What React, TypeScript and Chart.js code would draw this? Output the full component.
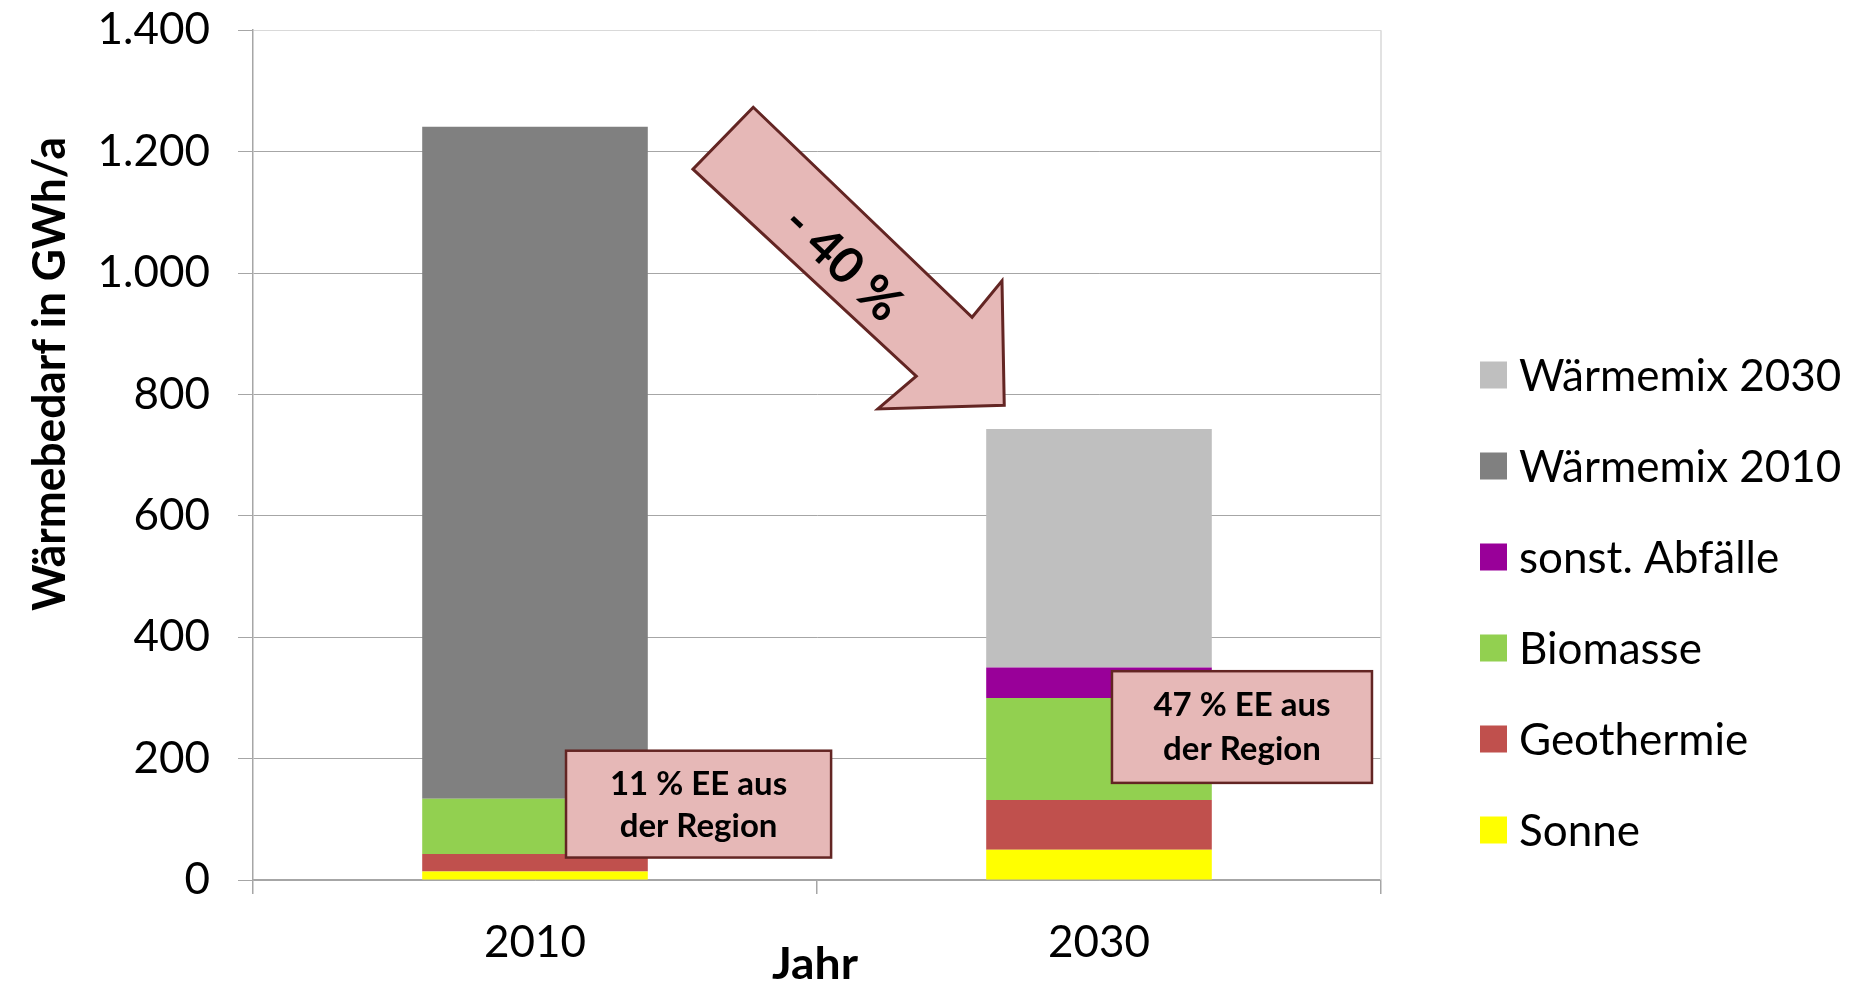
import React, { useEffect, useRef } from "react";
import { Chart, registerables } from "chart.js";

Chart.register(...registerables);

// ---------- data ----------
const categories = ["2010", "2030"];
const sonne = [14, 50];
const geothermie = [29, 82];
const biomasse = [91, 168];
const abfaelle = [0, 50];
const waermemix2010 = [1107, 0];
const waermemix2030 = [0, 393];
const yTickLabels = ["0", "200", "400", "600", "800", "1.000", "1.200", "1.400"];
const seriesNames = ["Sonne", "Geothermie", "Biomasse", "sonst. Abfälle", "Wärmemix 2010", "Wärmemix 2030"];
const seriesColors = ["#FFFF00", "#C0504D", "#92D050", "#990099", "#808080", "#BFBFBF"];
const yAxisTitle = "Wärmebedarf in GWh/a";
const xAxisTitle = "Jahr";
const arrowLabel = "- 40 %";
const note2010 = ["11 % EE aus", "der Region"];
const note2030 = ["47 % EE aus", "der Region"];

const FONT = "Lato, 'Liberation Sans', sans-serif";
const FILL = "#E6B8B7";
const STROKE = "#632523";

const overlayPlugin = {
  id: "overlay",
  afterDatasetsDraw(chart: any) {
    const ctx = chart.ctx as CanvasRenderingContext2D;
    const xs = chart.scales.x;
    const ys = chart.scales.y;
    const ca = chart.chartArea;
    const P = (i: number, v: number) => [xs.getPixelForValue(i), ys.getPixelForValue(v)];

    // plot area right border
    ctx.save();
    ctx.strokeStyle = "#D9D9D9";
    ctx.lineWidth = 1.5;
    ctx.beginPath();
    ctx.moveTo(ca.right, ca.top);
    ctx.lineTo(ca.right, ca.bottom);
    ctx.stroke();
    ctx.restore();

    // arrow (decoration, anchored to the scales)
    const arrow = [
      [0.387, 1273],
      [0.28, 1171],
      [0.676, 830],
      [0.608, 776],
      [0.832, 782],
      [0.828, 987],
      [0.775, 927],
    ].map(([i, v]) => P(i, v));
    ctx.save();
    ctx.beginPath();
    arrow.forEach(([x, y], k) => (k === 0 ? ctx.moveTo(x, y) : ctx.lineTo(x, y)));
    ctx.closePath();
    ctx.fillStyle = FILL;
    ctx.fill();
    ctx.lineWidth = 3;
    ctx.strokeStyle = STROKE;
    ctx.lineJoin = "miter";
    ctx.stroke();
    const [tx, ty] = P(0.545, 1015);
    ctx.translate(tx, ty);
    ctx.rotate((43.5 * Math.PI) / 180);
    ctx.fillStyle = "#000";
    ctx.font = `bold 50px ${FONT}`;
    ctx.textAlign = "center";
    ctx.textBaseline = "middle";
    ctx.fillText(arrowLabel, 0, 0);
    ctx.restore();

    // note boxes
    const drawNote = (i0: number, i1: number, vTop: number, vBot: number, lines: string[], offs: number[]) => {
      const [x0, y0] = P(i0, vTop);
      const [x1, y1] = P(i1, vBot);
      ctx.save();
      ctx.fillStyle = FILL;
      ctx.fillRect(x0, y0, x1 - x0, y1 - y0);
      ctx.lineWidth = 2.5;
      ctx.strokeStyle = STROKE;
      ctx.strokeRect(x0, y0, x1 - x0, y1 - y0);
      ctx.fillStyle = "#000";
      ctx.font = `bold 33px ${FONT}`;
      ctx.textAlign = "center";
      ctx.textBaseline = "alphabetic";
      lines.forEach((t, k) => ctx.fillText(t, (x0 + x1) / 2, y0 + offs[k]));
      ctx.restore();
    };
    drawNote(0.055, 0.525, 213, 37, note2010, [44, 86]);
    drawNote(1.023, 1.484, 344, 160, note2030, [45, 89]);
  },
  afterDraw(chart: any) {
    const ctx = chart.ctx as CanvasRenderingContext2D;
    const ca = chart.chartArea;

    // y axis title (condensed bold)
    ctx.save();
    ctx.fillStyle = "#000";
    ctx.font = `bold 46px ${FONT}`;
    const wY = ctx.measureText(yAxisTitle).width;
    ctx.translate(65, 374);
    ctx.rotate(-Math.PI / 2);
    ctx.scale(474 / wY, 1);
    ctx.textAlign = "center";
    ctx.textBaseline = "alphabetic";
    ctx.fillText(yAxisTitle, 0, 0);
    ctx.restore();

    // x axis title
    ctx.save();
    ctx.fillStyle = "#000";
    ctx.font = `bold 44px ${FONT}`;
    const wX = ctx.measureText(xAxisTitle).width;
    ctx.translate((ca.left + ca.right) / 2 - 2, 979);
    ctx.scale(86 / wX, 1);
    ctx.textAlign = "center";
    ctx.textBaseline = "alphabetic";
    ctx.fillText(xAxisTitle, 0, 0);
    ctx.restore();

    // legend (reverse order, as in the stack)
    ctx.save();
    const ds = chart.data.datasets;
    const order = ds.map((_: any, k: number) => k).reverse();
    ctx.font = `44px ${FONT}`;
    ctx.textAlign = "left";
    ctx.textBaseline = "alphabetic";
    order.forEach((k: number, row: number) => {
      const cy = 375 + row * 91;
      ctx.fillStyle = ds[k].backgroundColor;
      ctx.fillRect(1480, cy - 13.5, 27, 27);
      ctx.fillStyle = "#000";
      ctx.fillText(ds[k].label, 1519, cy + 15.5);
    });
    ctx.restore();
  },
};

export default function App() {
  const ref = useRef<HTMLCanvasElement>(null);
  useEffect(() => {
    document.body.style.margin = "0";
    const values = [sonne, geothermie, biomasse, abfaelle, waermemix2010, waermemix2030];
    const chart = new Chart(ref.current as HTMLCanvasElement, {
      type: "bar",
      data: {
        labels: categories,
        datasets: values.map((d, k) => ({
          label: seriesNames[k],
          data: d,
          backgroundColor: seriesColors[k],
          borderWidth: 0,
          barPercentage: 0.4,
          categoryPercentage: 1,
        })),
      },
      options: {
        responsive: false,
        animation: false,
        devicePixelRatio: 1,
        layout: { padding: { top: 0, right: 480, left: 0, bottom: 0 } },
        plugins: {
          legend: { display: false },
          tooltip: { enabled: false },
        },
        scales: {
          x: {
            stacked: true,
            offset: true,
            grid: {
              offset: true,
              drawOnChartArea: false,
              drawTicks: true,
              tickLength: 14,
              tickColor: "#A6A6A6",
              lineWidth: 1.5,
            },
            border: { color: "#A6A6A6", width: 1.5 },
            ticks: { font: { family: FONT, size: 44 }, color: "#000", padding: 22 },
            afterFit: (s: any) => {
              s.height = 103;
            },
          },
          y: {
            stacked: true,
            min: 0,
            max: 1400,
            ticks: {
              stepSize: 200,
              font: { family: FONT, size: 44, lineHeight: 0.1 },
              color: "#000",
              padding: 28,
              callback: (_v: any, i: number) => yTickLabels[i],
            },
            grid: {
              color: (c: any) => (c.tick && c.tick.value === 1400 ? "#D9D9D9" : "#A6A6A6"),
              lineWidth: 1,
              tickLength: 15,
              tickColor: "#A6A6A6",
            },
            border: { color: "#A6A6A6", width: 1.5 },
            afterFit: (s: any) => {
              s.width = 253;
            },
          },
        },
      },
      plugins: [overlayPlugin],
    } as any);
    return () => chart.destroy();
  }, []);
  return (
    <div style={{ width: 1861, height: 983, background: "#fff" }}>
      <canvas ref={ref} width={1861} height={983} style={{ display: "block", width: 1861, height: 983 }} />
    </div>
  );
}
